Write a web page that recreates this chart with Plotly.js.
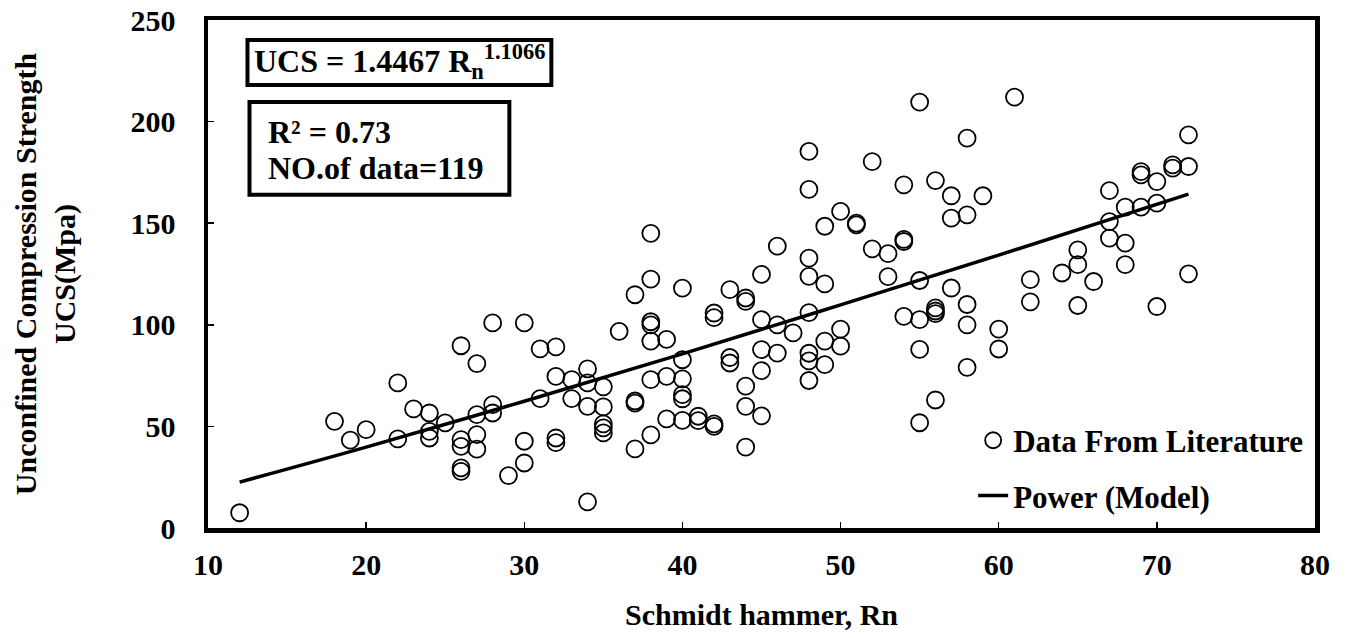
<!DOCTYPE html>
<html>
<head>
<meta charset="utf-8">
<script src="https://cdn.plot.ly/plotly-3.0.1.min.js"></script>
<style>
  html, body { margin: 0; padding: 0; background: #fff; }
  #chart { width: 1348px; height: 638px; }
</style>
</head>
<body>
<div id="chart"></div>
<script>
// ---- Data ----
const rn = [
  12, 18, 19, 20, 22, 22, 23, 24, 24, 24, 25,
  26, 26, 26, 26, 26, 27, 27, 27, 27, 28, 28, 28, 29,
  30, 30, 30, 31, 31, 32, 32, 32, 32, 33, 33,
  34, 34, 34, 34, 35, 35, 35, 35, 35, 36,
  37, 37, 37, 37, 38, 38, 38, 38, 38, 38, 38,
  39, 39, 39, 40, 40, 40, 40, 40, 40, 41, 41,
  42, 42, 42, 42, 43, 43, 43, 44, 44, 44, 44, 44,
  45, 45, 45, 45, 45, 46, 46, 46, 47,
  48, 48, 48, 48, 48, 48, 48, 48, 49, 49, 49, 49,
  50, 50, 50, 51, 51, 52, 52, 53, 53, 54, 54, 54, 54,
  55, 55, 55, 55, 55, 56, 56, 56, 56, 56, 57, 57, 57,
  58, 58, 58, 58, 58, 59, 60, 60, 61, 62, 62, 64,
  65, 65, 65, 66, 67, 67, 67, 68, 68, 68, 69, 69, 69,
  70, 70, 70, 71, 71, 72, 72, 72
];
const ucs = [
  7.5, 52.5, 43.2, 48.4, 71.4, 43.9, 58.6, 56.6, 47.6, 44.3, 51.7,
  89.7, 43.5, 40.2, 29.6, 27.9, 80.9, 55.8, 46.0, 38.8, 100.9, 60.7, 56.6, 25.8,
  100.9, 42.7, 32.0, 88.2, 63.7, 89.1, 74.6, 44.3, 42.0, 73.0, 63.7,
  78.3, 71.4, 59.9, 12.9, 69.5, 59.6, 51.2, 49.3, 46.8, 96.8,
  114.8, 62.5, 61.5, 38.9, 145.0, 122.5, 101.5, 100.0, 92.0, 73.0, 45.8,
  92.8, 74.6, 53.7, 118.0, 82.8, 73.4, 65.6, 63.6, 53.0, 55.0, 52.8,
  105.8, 103.5, 51.2, 50.0, 117.3, 83.9, 81.2, 113.2, 111.5, 69.8, 59.9, 39.8,
  124.8, 102.5, 87.8, 77.4, 55.2, 138.7, 100.0, 86.1, 96.0,
  185.3, 166.6, 132.8, 123.8, 106.0, 86.0, 82.2, 72.6, 148.5, 120.1, 92.0, 80.4,
  155.8, 97.9, 89.5, 150.0, 149.2, 180.3, 137.4, 135.0, 123.7, 168.9, 142.0, 141.0, 104.1,
  209.6, 121.8, 102.5, 87.9, 51.8, 171.0, 108.3, 106.8, 105.5, 63.0, 163.5, 152.5, 118.1,
  191.9, 154.1, 110.0, 100.0, 79.0, 163.5, 97.9, 88.1, 212.0, 122.2, 111.3, 125.5,
  136.9, 129.6, 109.5, 121.3, 166.0, 150.8, 142.7, 157.9, 140.2, 129.6, 175.4, 173.8, 157.9,
  170.5, 159.9, 109.0, 178.7, 177.1, 193.5, 177.9, 125.1
];
// Power model line as drawn in the picture
const fitRn  = [12, 20, 30, 40, 50, 60, 72];
const fitUcs = [22.6, 39.8, 62.4, 85.7, 109.8, 134.3, 164.3];

const xTicks = [10, 20, 30, 40, 50, 60, 70, 80];
const yTicks = [0, 50, 100, 150, 200, 250];

const seriesNames = ['Data From Literature', 'Power (Model)'];
const xTitle = 'Schmidt hammer, Rn';
const yTitle = 'Unconfined Compression Strength<br>UCS(Mpa)';
const eqText = 'UCS = 1.4467 R<sub>n</sub><sup>1.1066</sup>';
const r2Text = 'R² = 0.73';
const nText = 'NO.of data=119';

// ---- Layout helpers (pixel -> paper) ----
const W = 1348, H = 638;
const PL = 207.5, PR = 1315, PT = 20, PB = 528.5;
const px = v => (v - PL) / (PR - PL);
const py = v => (PB - v) / (PB - PT);

const FONT = 'Liberation Serif, Times New Roman, serif';

const traces = [
  {
    x: rn, y: ucs, type: 'scatter', mode: 'markers', name: seriesNames[0],
    legendgroup: 'a',
    marker: { symbol: 'circle', size: 17, color: 'rgba(0,0,0,0)',
              line: { color: '#000', width: 1.8 } },
    cliponaxis: false
  },
  {
    x: fitRn, y: fitUcs, type: 'scatter', mode: 'lines', name: seriesNames[1],
    legendgroup: 'b',
    line: { color: '#000', width: 3.5, shape: 'spline' }
  }
];

const axisCommon = {
  showline: true, linecolor: '#000', linewidth: 4.5, mirror: true,
  ticks: 'inside', ticklen: 6, tickwidth: 1.5, tickcolor: '#000',
  showgrid: false, zeroline: false,
  tickfont: { family: FONT, size: 30, color: '#000', weight: 'bold' }
};

const layout = {
  width: W, height: H,
  margin: { l: PL, r: W - PR, t: PT, b: H - PB, autoexpand: false },
  paper_bgcolor: '#fff', plot_bgcolor: '#fff',
  font: { family: FONT, color: '#000' },
  showlegend: true,
  legend: {
    x: px(973), xanchor: 'left', y: py(414), yanchor: 'top',
    bgcolor: 'rgba(0,0,0,0)', borderwidth: 0,
    font: { family: FONT, size: 31, color: '#000', weight: 'bold' },
    tracegroupgap: 12, traceorder: 'grouped'
  },
  xaxis: Object.assign({}, axisCommon, {
    range: [10, 80], tickvals: xTicks, ticklabelstandoff: 6,
    title: { text: xTitle, standoff: 26,
             font: { family: FONT, size: 30, color: '#000', weight: 'bold' } },
    automargin: false
  }),
  yaxis: Object.assign({}, axisCommon, {
    range: [0, 250], tickvals: yTicks, ticklabelstandoff: 22,
    title: { text: yTitle, standoff: 47,
             font: { family: FONT, size: 30, color: '#000', weight: 'bold' } },
    automargin: false
  }),
  shapes: [
    { type: 'rect', xref: 'paper', yref: 'paper',
      x0: px(247), x1: px(551), y0: py(85), y1: py(40),
      line: { color: '#000', width: 4 }, fillcolor: 'rgba(0,0,0,0)' },
    { type: 'rect', xref: 'paper', yref: 'paper',
      x0: px(249), x1: px(509), y0: py(195), y1: py(102),
      line: { color: '#000', width: 4 }, fillcolor: 'rgba(0,0,0,0)' }
  ],
  annotations: [
    { text: eqText, xref: 'paper', yref: 'paper', x: px(252), y: py(62),
      xanchor: 'left', yanchor: 'middle', showarrow: false,
      font: { family: FONT, size: 32, color: '#000', weight: 'bold' } },
    { text: r2Text, xref: 'paper', yref: 'paper', x: px(266), y: py(132),
      xanchor: 'left', yanchor: 'middle', showarrow: false,
      font: { family: FONT, size: 32, color: '#000', weight: 'bold' } },
    { text: nText, xref: 'paper', yref: 'paper', x: px(266), y: py(168),
      xanchor: 'left', yanchor: 'middle', showarrow: false,
      font: { family: FONT, size: 32, color: '#000', weight: 'bold' } }
  ]
};

Plotly.newPlot('chart', traces, layout, { displayModeBar: false, staticPlot: true });
</script>
</body>
</html>
